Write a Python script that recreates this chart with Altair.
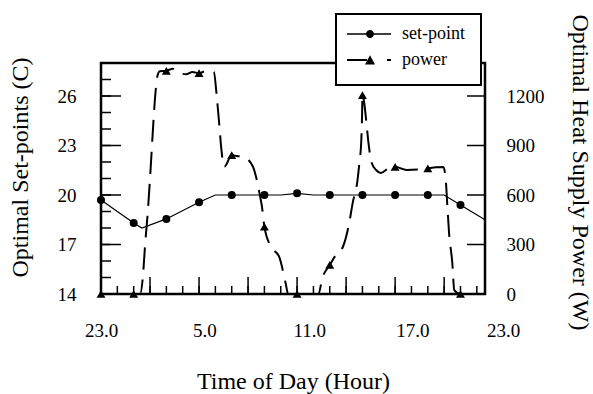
import altair as alt
import pandas as pd

# ---------------- data (x = hours after 23:00) ----------------
marker_hours = [0, 2, 4, 6, 8, 10, 12, 14, 16, 18, 20, 22]
setpoint_markers = [19.7, 18.3, 18.55, 19.56, 20.0, 20.0, 20.1, 20.0, 20.0, 20.0, 20.0, 19.4]
power_markers = [0, 0, 1353, 1338, 842, 408, 0, 176, 1206, 771, 762, 0]

setpoint_line_hours = [0, 2, 2.5, 4, 6, 7, 11, 12, 13, 21, 22, 23.5]
setpoint_line_values = [19.7, 18.3, 18.0, 18.55, 19.56, 20.0, 20.0, 20.1, 20.0, 20.0, 19.4, 18.5]

power_line_hours = [0, 2, 2.4, 2.55, 2.7, 2.85, 3.0, 3.15, 3.3, 3.45, 3.6, 4, 4.4, 4.8,
                    5.2, 5.6, 6, 6.4, 6.9, 7.1, 7.25, 7.35, 7.55, 8, 8.3, 8.7, 9.3, 9.7,
                    9.85, 10, 10.4, 10.9, 11.3, 11.45, 12, 13.3, 13.55, 14, 14.4, 14.8,
                    15.2, 15.4, 15.7, 15.8, 15.93, 15.98, 16, 16.08, 16.27, 16.35, 16.57,
                    16.85, 17.12, 17.6, 18, 18.7, 19.4, 20, 20.5, 20.95, 21.1, 21.2, 21.3,
                    21.5, 21.62, 22, 23.5]
power_line_values = [0, 0, 0, 90, 300, 480, 700, 950, 1180, 1320, 1350, 1353, 1365, 1340,
                     1332, 1345, 1338, 1350, 1347, 1180, 1014, 893, 771, 842, 836, 832, 771, 610,
                     529, 408, 287, 226, 65, 0, 0, 0, 97, 176, 240, 285,
                     436, 551, 691, 782, 933, 1100, 1206, 1176, 1012, 933, 794,
                     750, 733, 762, 771, 752, 755, 762, 768, 770, 690, 527, 370,
                     188, 24, 0, 0]

series_names = ["set-point", "power"]

x_label_texts = ["23.0", "5.0", "11.0", "17.0", "23.0"]
x_minor_ticks = list(range(1, 24))
y_left_ticks = list(range(15, 28))
y_left_labels = [14, 17, 20, 23, 26]
y_right_labels = [0, 300, 600, 900, 1200]

# ---------------- styling / layout ----------------
W, H = 384, 231
FONT = "Liberation Serif"
X_DOMAIN = [0, 23.5]
T_DOMAIN = [14, 28]
P_DOMAIN = [0, 1400]
# where the printed hour labels sit along the axis (in axis units)
x_label_pos = [0, 6.32, 12.75, 19.05]
x_last_pos = 23.5

sp_line_df = pd.DataFrame({"h": setpoint_line_hours, "t": setpoint_line_values})
sp_pt_df = pd.DataFrame({"h": marker_hours, "t": setpoint_markers})
pw_line_df = pd.DataFrame({"h": power_line_hours, "p": power_line_values})
pw_pt_df = pd.DataFrame({"h": marker_hours, "p": power_markers})
xt_df = pd.DataFrame({"h": x_minor_ticks})
yl_df = pd.DataFrame({"t": y_left_ticks})
yr_df = pd.DataFrame({"p": y_right_labels[1:]})
leg_df = pd.DataFrame({"series": series_names})

xscale = alt.Scale(domain=X_DOMAIN, nice=False, zero=False)
tscale = alt.Scale(domain=T_DOMAIN, nice=False, zero=False)
pscale = alt.Scale(domain=P_DOMAIN, nice=False, zero=False)

label_expr = " : ".join(
    f"datum.value == {v} ? '{t}'" for v, t in zip(x_label_pos, x_label_texts[:4])
) + " : ''"

common_lbl = dict(ticks=False, tickSize=0, domain=False, grid=False,
                  labelFont=FONT, labelFontSize=19, labelColor="black")
TITLE_SIZE = 24

x_axis = alt.Axis(values=x_label_pos, labelExpr=label_expr, orient="bottom",
                  labelPadding=27, labelFlush=False, labelOverlap=False,
                  title="Time of Day (Hour)", titleFont=FONT, titleFontSize=TITLE_SIZE,
                  titleFontWeight="normal", titleColor="black",
                  titleBaseline="alphabetic", titleY=94, **common_lbl)
x_axis_last = alt.Axis(values=[x_last_pos], labelExpr=f"'{x_label_texts[4]}'", orient="bottom",
                       labelPadding=27, labelFlush=False, labelOverlap=False, labelOffset=18,
                       title=None, **common_lbl)

left_axis = alt.Axis(values=y_left_labels, orient="left", labelPadding=25,
                     title="Optimal Set-points (C)", titleFont=FONT, titleFontSize=TITLE_SIZE,
                     titleFontWeight="normal", titleColor="black", titleAngle=270,
                     titleBaseline="alphabetic", titleAlign="center", titleX=-74, titleY=104,
                     **common_lbl)

right_axis = alt.Axis(values=y_right_labels, orient="right", labelPadding=21, format="d",
                      title="Optimal Heat Supply Power (W)", titleFont=FONT,
                      titleFontSize=TITLE_SIZE,
                      titleFontWeight="normal", titleColor="black", titleAngle=90,
                      titleBaseline="alphabetic", titleAlign="center", titleX=87, titleY=109,
                      **common_lbl)

sp_line = alt.Chart(sp_line_df).mark_line(color="black", strokeWidth=1.2).encode(
    x=alt.X("h:Q", scale=xscale, axis=x_axis),
    y=alt.Y("t:Q", scale=tscale, axis=left_axis),
)
sp_pts = alt.Chart(sp_pt_df).mark_point(shape="circle", filled=True, color="black",
                                         size=64, opacity=1).encode(
    x=alt.X("h:Q", scale=xscale, axis=None),
    y=alt.Y("t:Q", scale=tscale, axis=None),
)
xt_minor = alt.Chart(xt_df).mark_rule(color="black", strokeWidth=1.5).encode(
    x=alt.X("h:Q", scale=xscale, axis=None),
    y=alt.value(H), y2=alt.value(H - 8),
)
xt_major = alt.Chart(xt_df).transform_filter("datum.h % 3 == 0").mark_rule(
    color="black", strokeWidth=1.5).encode(
    x=alt.X("h:Q", scale=xscale, axis=None),
    y=alt.value(H), y2=alt.value(H - 17),
)
yl_minor = alt.Chart(yl_df).mark_rule(color="black", strokeWidth=1.5).encode(
    y=alt.Y("t:Q", scale=tscale, axis=None),
    x=alt.value(0), x2=alt.value(10),
)
yl_major = alt.Chart(yl_df).transform_filter("(datum.t - 14) % 3 == 0").mark_rule(
    color="black", strokeWidth=1.5).encode(
    y=alt.Y("t:Q", scale=tscale, axis=None),
    x=alt.value(0), x2=alt.value(20),
)

# legend-only layer (invisible marks, custom symbols: line + marker drawn as filled shapes)
sp_sym = ("M-1.75,-0.715L3.75,-0.715L3.75,-0.535L-1.75,-0.535Z"
          "M0.625,-0.625A0.5,0.5,0,1,1,1.625,-0.625A0.5,0.5,0,1,1,0.625,-0.625Z")
pw_sym = ("M-1.75,-0.755L0.75,-0.755L0.75,-0.495L-1.75,-0.495Z"
          "M3.25,-0.755L3.75,-0.755L3.75,-0.495L3.25,-0.495Z"
          "M0.5,-0.075L1.125,-1.225L1.75,-0.075Z")
legend_layer = alt.Chart(leg_df).mark_point(filled=True, fill="black", stroke="black",
                                             strokeWidth=0.5, opacity=0).encode(
    shape=alt.Shape("series:N",
                    scale=alt.Scale(domain=series_names, range=[sp_sym, pw_sym]),
                    legend=alt.Legend(title=None, orient="none", legendX=235, legendY=-49,
                                      padding=16, strokeColor="black", fillColor="white",
                                      labelFont=FONT, labelFontSize=18, labelColor="black",
                                      labelBaseline="alphabetic",
                                      labelExpr="datum.label + '\u00a0'",
                                      labelOffset=32, rowPadding=8,
                                      symbolSize=256, symbolStrokeWidth=0.5,
                                      symbolFillColor="black", symbolStrokeColor="black",
                                      symbolOpacity=1)),
)

pw_line = alt.Chart(pw_line_df).mark_line(color="black", strokeWidth=2, strokeDash=[22, 10],
                                           interpolate="monotone").encode(
    x=alt.X("h:Q", scale=xscale, axis=x_axis_last),
    y=alt.Y("p:Q", scale=pscale, axis=right_axis),
)
pw_pts = alt.Chart(pw_pt_df).mark_point(shape="triangle-up", filled=True, color="black",
                                         size=80, opacity=1).encode(
    x=alt.X("h:Q", scale=xscale, axis=None),
    y=alt.Y("p:Q", scale=pscale, axis=None),
)
yr_ticks = alt.Chart(yr_df).mark_rule(color="black", strokeWidth=1.5).encode(
    y=alt.Y("p:Q", scale=pscale, axis=None),
    x=alt.value(W), x2=alt.value(W - 18),
)

chart = alt.layer(
    sp_line, pw_line, sp_pts, pw_pts, xt_minor, xt_major, yl_minor, yl_major, yr_ticks,
    legend_layer,
).resolve_scale(y="independent").resolve_axis(x="independent", y="independent").properties(
    width=W, height=H,
    padding={"left": 101, "top": 63, "right": 108, "bottom": 100},
    autosize=alt.AutoSizeParams(type="none"),
    background="white",
).configure_view(stroke="black", strokeWidth=2.5).configure_legend(strokeWidth=2)

chart.save("out.html", embed_options={"renderer": "svg", "actions": False})
